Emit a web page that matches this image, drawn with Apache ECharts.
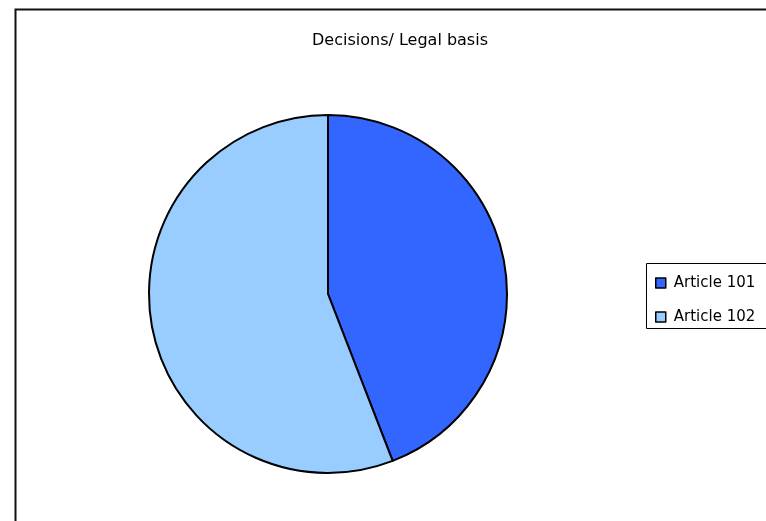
<!DOCTYPE html>
<html>
<head>
<meta charset="utf-8">
<script src="https://cdn.jsdelivr.net/npm/echarts@6/dist/echarts.min.js"></script>
<style>html,body{margin:0;padding:0;background:#fff}#c{width:766px;height:521px}</style>
</head>
<body>
<div id="c"></div>
<script>
var categories = ["Article 101", "Article 102"];
var values = [15, 19];
var colors = ["#3366FF", "#99CCFF"];
var titleText = "Decisions/ Legal basis";

var chart = echarts.init(document.getElementById('c'), null, {renderer: 'canvas'});
chart.setOption({
  animation: false,
  backgroundColor: '#fff',
  title: {
    text: titleText,
    left: 395, top: 28, textAlign: 'center',
    textStyle: {fontFamily: 'DejaVu Sans', fontSize: 16, fontWeight: 'normal', color: '#000'}
  },
  graphic: [
    {type: 'rect', shape: {x: 15.5, y: 9.5, width: 800, height: 600}, style: {fill: 'none', stroke: '#111', lineWidth: 2}, z: 0},
    {type: 'rect', shape: {x: 646.5, y: 263.5, width: 140, height: 65}, style: {fill: '#fff', stroke: '#000', lineWidth: 1}, z: 1}
  ],
  legend: {
    orient: 'vertical',
    left: 650, top: 270,
    itemWidth: 10, itemHeight: 10, itemGap: 18,
    icon: 'rect',
    itemStyle: {borderColor: '#000', borderWidth: 1.5},
    textStyle: {fontFamily: 'DejaVu Sans', fontSize: 15, lineHeight: 16, color: '#000', padding: [0, 0, 0, 3]},
    z: 5
  },
  series: [{
    type: 'pie',
    center: [328, 294],
    radius: 179,
    startAngle: 90,
    clockwise: true,
    label: {show: false},
    labelLine: {show: false},
    emphasis: {disabled: true},
    itemStyle: {borderColor: '#000', borderWidth: 2},
    data: categories.map(function (c, i) {
      return {name: c, value: values[i], itemStyle: {color: colors[i]}};
    })
  }]
});
</script>
</body>
</html>
